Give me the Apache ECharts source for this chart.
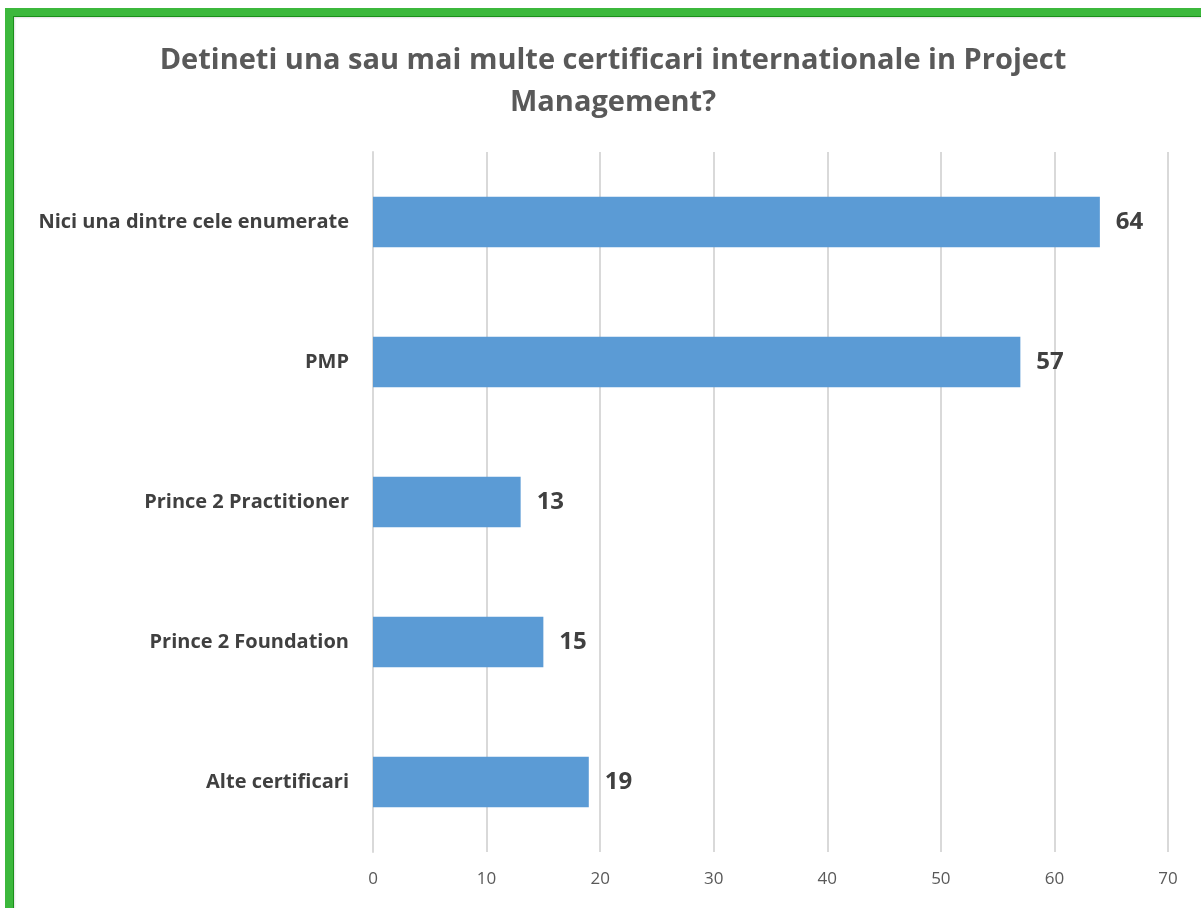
<!DOCTYPE html>
<html style="height: 100%">

<head>
    <meta charset="utf-8">
</head>

<body style="height: 100%; margin: 0; background: #fff; overflow: hidden">
    <div id="frame" style="position: absolute; left: 5px; top: 8px; width: 1196px; height: 900px; border-top: 8px solid #3cb83c; border-left: 8px solid #3cb83c; box-sizing: border-box; box-shadow: inset 1px 1px 0 #1a8f1a, inset 2px 2px 2px #e0e0e0"></div>
    <div id="main" style="position: absolute; left: 0; top: 0; width: 1201px; height: 908px"></div>

    <script type="text/javascript" src="https://cdn.jsdelivr.net/npm/echarts@6/dist/echarts.min.js"></script>

    <script type="text/javascript">
        var categories = ['Alte certificari', 'Prince 2 Foundation', 'Prince 2 Practitioner', 'PMP', 'Nici una dintre cele enumerate'];
        var values = [19, 15, 13, 57, 64];
        var xTicks = [0, 10, 20, 30, 40, 50, 60, 70];

        var dom = document.getElementById("main");
        var myChart = echarts.init(dom);
        var font = '"Open Sans", "Liberation Sans", sans-serif';

        var option = {
            title: {
                text: 'Detineti una sau mai multe certificari internationale in Project\nManagement?',
                left: 608,
                textAlign: 'center',
                top: 35,
                textStyle: {
                    fontFamily: font,
                    fontSize: 29,
                    fontWeight: 'bold',
                    color: '#595959',
                    lineHeight: 42
                }
            },
            grid: {
                left: 373,
                right: 33,
                top: 152,
                bottom: 56
            },
            xAxis: {
                type: 'value',
                min: xTicks[0],
                max: xTicks[xTicks.length - 1],
                interval: 10,
                axisLine: { show: false },
                axisTick: { show: false },
                splitLine: { lineStyle: { color: '#d9d9d9', width: 2 } },
                axisLabel: {
                    margin: 19,
                    fontFamily: font,
                    fontSize: 17,
                    color: '#595959'
                }
            },
            yAxis: {
                type: 'category',
                data: categories,
                axisLine: { show: true, lineStyle: { color: '#d9d9d9', width: 2 } },
                axisTick: { show: false },
                axisLabel: {
                    margin: 24,
                    fontFamily: font,
                    fontSize: 20,
                    fontWeight: 'bold',
                    color: '#404040'
                }
            },
            series: [
                {
                    type: 'bar',
                    data: values,
                    barWidth: '36%',
                    itemStyle: { color: '#5b9bd5' },
                    label: {
                        show: true,
                        position: 'right',
                        distance: 16,
                        fontFamily: font,
                        fontSize: 24,
                        fontWeight: 'bold',
                        color: '#404040'
                    }
                }
            ]
        };

        if (option && typeof option === 'object') {
            myChart.setOption(option);
        }
    </script>
</body>

</html>
